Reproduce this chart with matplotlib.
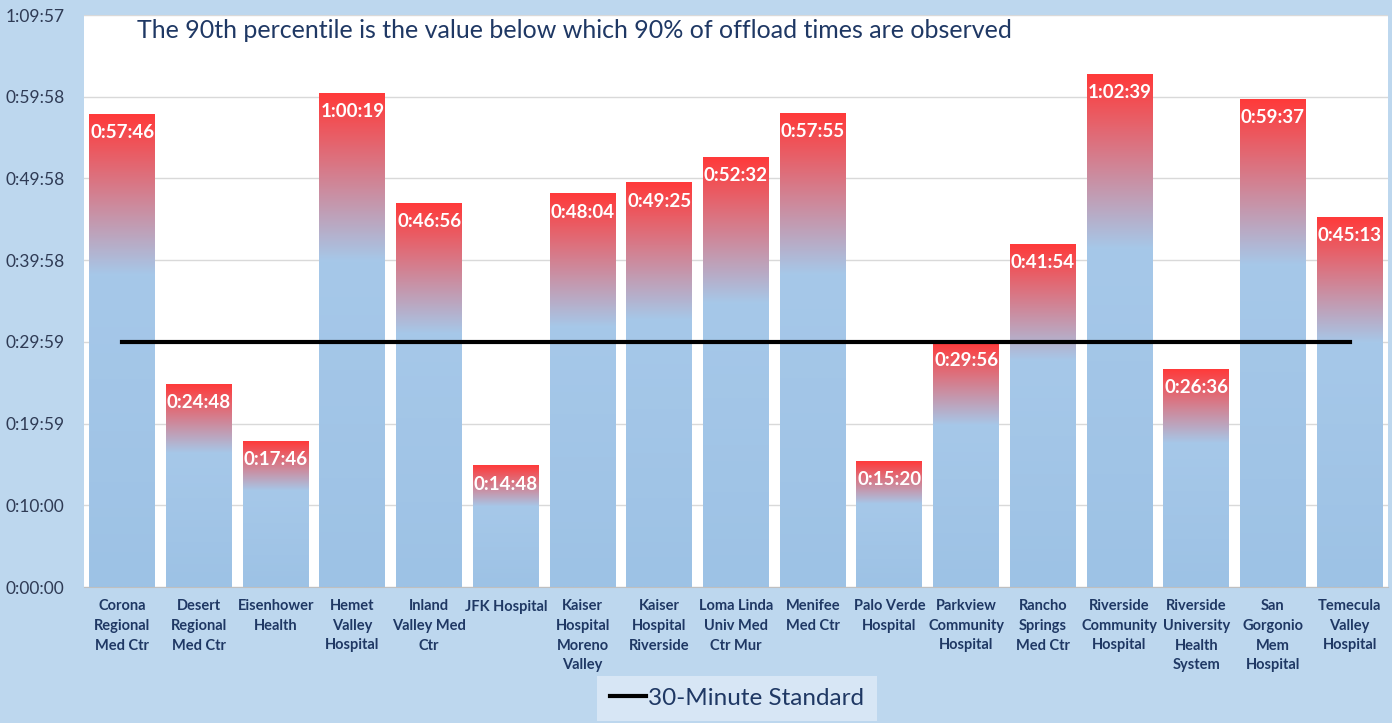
import numpy as np
import matplotlib.pyplot as plt
from matplotlib.lines import Line2D

# Hospitals and 90th percentile offload times
hospitals = ["Corona\nRegional\nMed Ctr", "Desert\nRegional\nMed Ctr", "Eisenhower\nHealth",
             "Hemet\nValley\nHospital", "Inland\nValley Med\nCtr", "JFK Hospital",
             "Kaiser\nHospital\nMoreno\nValley", "Kaiser\nHospital\nRiverside",
             "Loma Linda\nUniv Med\nCtr Mur", "Menifee\nMed Ctr", "Palo Verde\nHospital",
             "Parkview\nCommunity\nHospital", "Rancho\nSprings\nMed Ctr",
             "Riverside\nCommunity\nHospital", "Riverside\nUniversity\nHealth\nSystem",
             "San\nGorgonio\nMem\nHospital", "Temecula\nValley\nHospital"]
times = ["0:57:46", "0:24:48", "0:17:46", "1:00:19", "0:46:56", "0:14:48", "0:48:04",
         "0:49:25", "0:52:32", "0:57:55", "0:15:20", "0:29:56", "0:41:54", "1:02:39",
         "0:26:36", "0:59:37", "0:45:13"]
ytick_labels = ["0:00:00", "0:10:00", "0:19:59", "0:29:59", "0:39:58", "0:49:58", "0:59:58", "1:09:57"]
standard = "0:30:00"


def to_min(s):
    h, m, sec = [int(p) for p in s.split(":")]
    return h * 60 + m + sec / 60.0


vals = np.array([to_min(t) for t in times])
yticks = [to_min(t) for t in ytick_labels]
x = np.arange(len(hospitals))

plt.rcParams['font.family'] = ['Lato', 'DejaVu Sans']
navy = '#1F3864'
fig = plt.figure(figsize=(13.92, 7.23), dpi=100, facecolor='#BDD7EE')
ax = fig.add_axes([84 / 1392, 1 - 587 / 723, 1304 / 1392, 572 / 723])
ax.set_facecolor('white')

# gradient for bars: red at the top, fading to blue over the top third
n = 300
t = np.linspace(0, 1, n)[:, None]
red = np.array([255, 58, 58]) / 255
blue_top = np.array([166, 200, 233]) / 255
blue_bot = np.array([157, 194, 229]) / 255
k = np.clip(t / 0.34, 0, 1)
col = red * (1 - k) + blue_top * k
col = np.where(t > 0.34, blue_top + (blue_bot - blue_top) * (t - 0.34) / 0.66, col)
grad = col[:, None, :]

w = 0.86
for xi, v in zip(x, vals):
    ax.imshow(grad, extent=[xi - w / 2, xi + w / 2, 0, v], aspect='auto',
              origin='upper', zorder=2, interpolation='bilinear')
    ax.annotate(times[xi], (xi, v), xytext=(0, -7), textcoords='offset points',
                ha='center', va='top', color='white', fontsize=13.5, fontweight='bold', zorder=4)

std = to_min(standard)
ax.plot([x[0], x[-1]], [std, std], color='black', lw=3, zorder=3, label='30-Minute Standard')

ax.set_xlim(-0.5, len(hospitals) - 0.5)
ax.set_ylim(0, to_min("1:09:57"))
ax.set_yticks(yticks)
ax.set_yticklabels(ytick_labels, fontsize=12.5, color='#2F3B55')
ax.set_xticks(x)
ax.set_xticklabels(hospitals, fontsize=10.5, fontweight='bold', color=navy, linespacing=1.5)
ax.tick_params(axis='both', length=0)
ax.tick_params(axis='y', pad=14)
ax.tick_params(axis='x', pad=9)
ax.grid(axis='y', color='#D9D9D9', lw=1, zorder=1)
ax.set_axisbelow(True)
for s in ['top', 'right', 'left']:
    ax.spines[s].set_visible(False)
ax.spines['bottom'].set_color('#BFBFBF')

fig.text(137 / 1392, 1 - 31 / 723, "The 90th percentile is the value below which 90% of offload times are observed",
         fontsize=18, color=navy, va='center', ha='left')

h = Line2D([], [], color='black', lw=3)
leg = fig.legend([h], ['30-Minute Standard'], loc='lower center', bbox_to_anchor=(737 / 1392, -0.014),
                 frameon=True, fancybox=False, fontsize=17.5, handlelength=1.5, handletextpad=0.1,
                 borderpad=0.5)
leg.get_frame().set_facecolor('#DEEBF7')
leg.get_frame().set_edgecolor('none')
for tx in leg.get_texts():
    tx.set_color(navy)

fig.savefig('out.png', dpi=100, facecolor=fig.get_facecolor())
